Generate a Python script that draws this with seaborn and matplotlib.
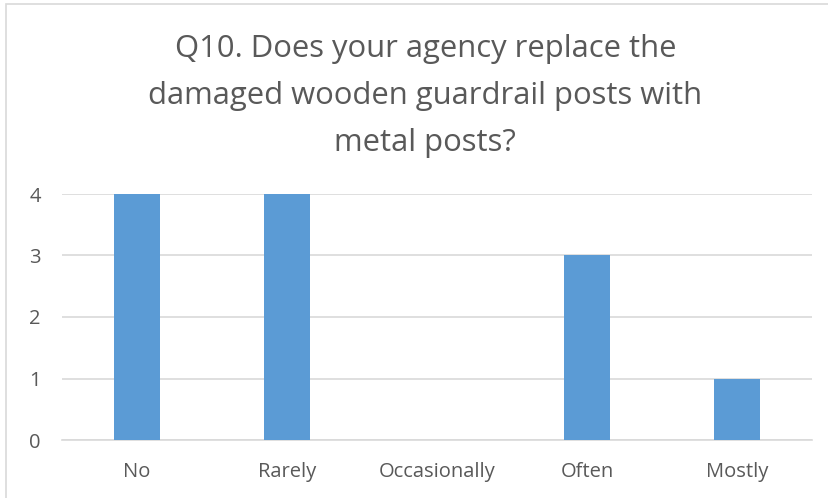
import matplotlib
matplotlib.use("Agg")
import matplotlib.pyplot as plt
from matplotlib.patches import Rectangle
import seaborn as sns
import pandas as pd

categories = ["No", "Rarely", "Occasionally", "Often", "Mostly"]
counts = [4, 4, 0, 3, 1]
y_ticks = [0, 1, 2, 3, 4]
title = "Q10. Does your agency replace the\ndamaged wooden guardrail posts with\nmetal posts?"

sns.set_theme(style="white")
plt.rcParams["font.family"] = ["Open Sans", "DejaVu Sans"]

df = pd.DataFrame({"answer": categories, "count": counts})

fig = plt.figure(figsize=(8.29, 4.98), dpi=100)
ax = fig.add_axes([62 / 829, 1 - 440 / 498, 750 / 829, 246 / 498])

sns.barplot(data=df, x="answer", y="count", color="#5B9BD5", saturation=1,
            width=0.307, linewidth=0, ax=ax, zorder=3)

ax.set_ylim(0, 4)
ax.set_yticks(y_ticks)
ax.set_xlim(-0.5, len(categories) - 0.5)
ax.yaxis.grid(True, color="#D9D9D9", linewidth=1.2, zorder=0)
ax.xaxis.grid(False)
for side in ["top", "right", "left"]:
    ax.spines[side].set_visible(False)
ax.spines["bottom"].set_color("#D9D9D9")
ax.spines["bottom"].set_linewidth(1.2)
ax.set_xlabel("")
ax.set_ylabel("")
ax.tick_params(axis="both", length=0, labelsize=14.5, colors="#595959")
ax.tick_params(axis="x", pad=15.5)
ax.tick_params(axis="y", pad=19.5)
for lbl in ax.get_yticklabels():
    lbl.set_horizontalalignment("center")

fig.text(0.513, 1 - 96 / 498, title, ha="center", va="center",
         fontsize=22.3, color="#595959", linespacing=1.72)

# outer chart frame
fig.patches.append(Rectangle((6 / 829, -0.05), 1.1, 1 - 4 / 498 + 0.05,
                             transform=fig.transFigure, fill=False,
                             edgecolor="#D9D9D9", linewidth=1.2))

fig.savefig("out.png", dpi=100)
